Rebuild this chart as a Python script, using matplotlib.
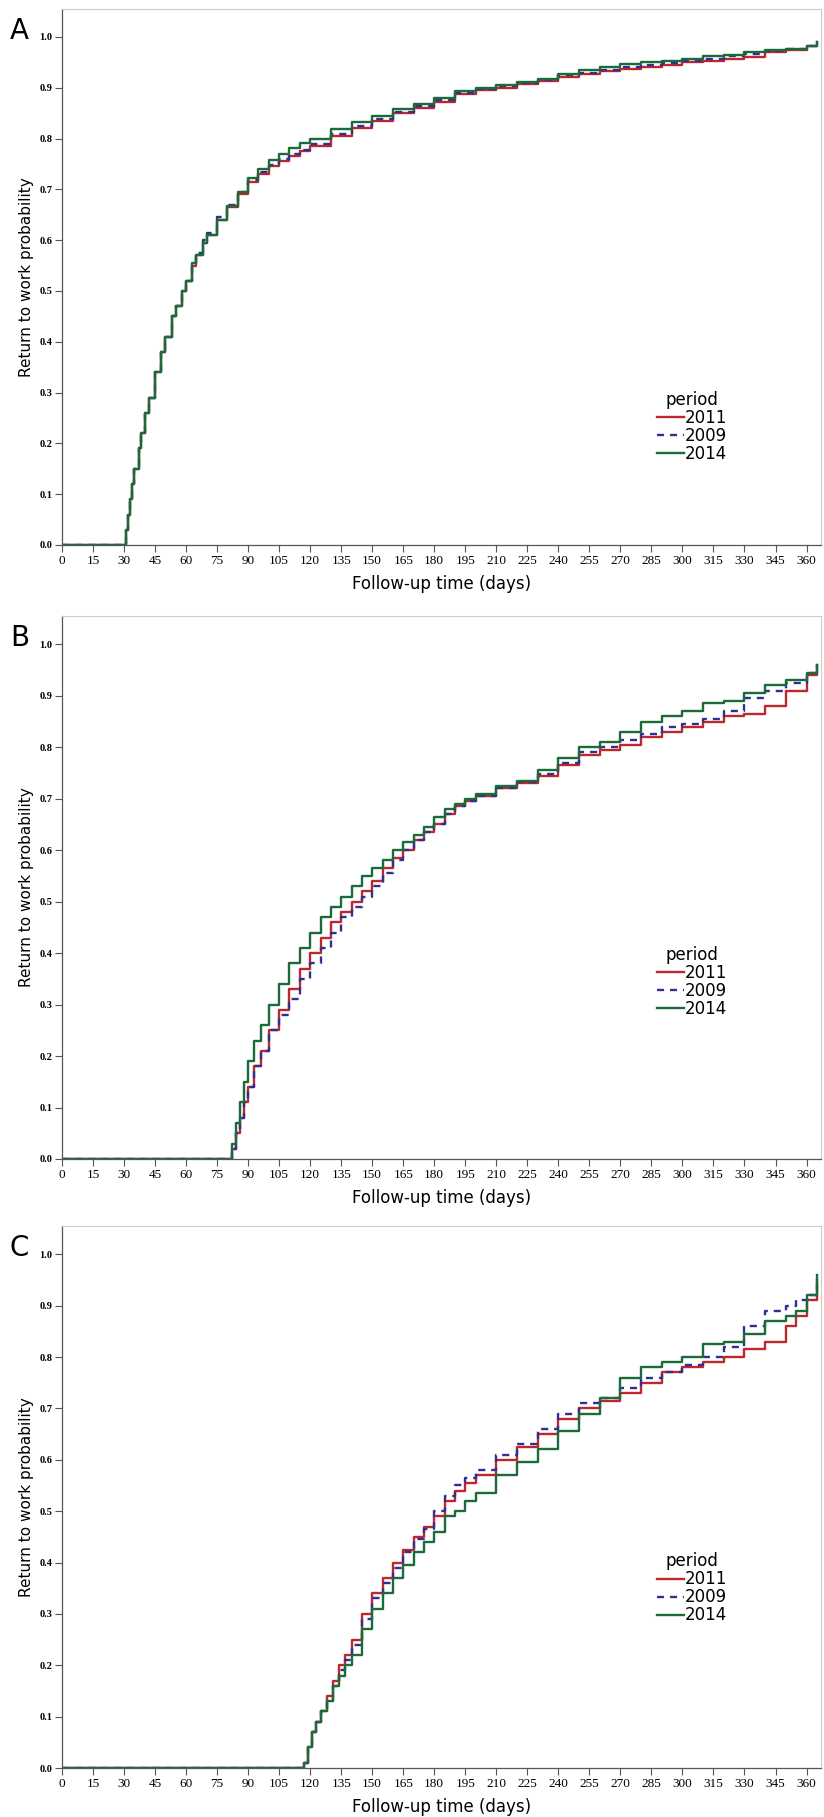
import matplotlib
matplotlib.use("Agg")
import matplotlib.pyplot as plt
from matplotlib.lines import Line2D

# ---------------- data ----------------
# Panel A
a_days = [0, 31, 32, 33, 34, 35, 37, 38, 40, 42, 45, 48, 50, 53, 55, 58, 60, 63, 65, 68, 70, 75, 80, 85, 90, 95, 100, 105, 110,
          115, 120, 130, 140, 150, 160, 170, 180, 190, 200, 210, 220, 230, 240, 250, 260, 270, 280, 290, 300, 310, 320, 330,
          340, 350, 360, 365]
a_2011 = [0, 0.03, 0.06, 0.09, 0.12, 0.15, 0.19, 0.22, 0.26, 0.29, 0.34, 0.38, 0.41, 0.45, 0.47, 0.50, 0.52, 0.55, 0.57, 0.595,
          0.61, 0.64, 0.665, 0.69, 0.715, 0.73, 0.745, 0.755, 0.765, 0.775, 0.785, 0.805, 0.82, 0.835, 0.85, 0.86, 0.872,
          0.888, 0.895, 0.90, 0.907, 0.913, 0.922, 0.928, 0.932, 0.936, 0.94, 0.945, 0.95, 0.953, 0.956, 0.96, 0.97, 0.975,
          0.982, 0.99]
a_2009 = [0, 0.03, 0.06, 0.09, 0.12, 0.15, 0.19, 0.22, 0.26, 0.29, 0.34, 0.38, 0.41, 0.45, 0.47, 0.50, 0.52, 0.55, 0.575, 0.60,
          0.615, 0.645, 0.67, 0.695, 0.718, 0.735, 0.748, 0.76, 0.77, 0.778, 0.79, 0.808, 0.824, 0.838, 0.852, 0.864, 0.876,
          0.89, 0.897, 0.903, 0.91, 0.916, 0.925, 0.93, 0.935, 0.94, 0.944, 0.948, 0.952, 0.957, 0.962, 0.966, 0.972, 0.977,
          0.983, 0.99]
a_2014 = [0, 0.03, 0.06, 0.09, 0.12, 0.15, 0.19, 0.22, 0.26, 0.29, 0.34, 0.38, 0.41, 0.45, 0.47, 0.50, 0.52, 0.555, 0.57, 0.595,
          0.61, 0.64, 0.667, 0.695, 0.722, 0.74, 0.757, 0.77, 0.782, 0.792, 0.80, 0.818, 0.832, 0.845, 0.858, 0.868, 0.88,
          0.893, 0.9, 0.906, 0.912, 0.918, 0.927, 0.934, 0.94, 0.946, 0.95, 0.953, 0.957, 0.962, 0.965, 0.97, 0.974, 0.977,
          0.983, 0.99]

# Panel B
b_days = [0, 82, 84, 86, 88, 90, 93, 96, 100, 105, 110, 115, 120, 125, 130, 135, 140, 145, 150, 155, 160, 165, 170, 175, 180,
          185, 190, 195, 200, 210, 220, 230, 240, 250, 260, 270, 280, 290, 300, 310, 320, 330, 340, 350, 360, 365]
b_2011 = [0, 0.02, 0.05, 0.08, 0.11, 0.14, 0.18, 0.21, 0.25, 0.29, 0.33, 0.37, 0.40, 0.43, 0.46, 0.48, 0.50, 0.52, 0.54, 0.565,
          0.585, 0.60, 0.62, 0.635, 0.65, 0.67, 0.685, 0.695, 0.705, 0.72, 0.73, 0.745, 0.765, 0.785, 0.795, 0.805, 0.82,
          0.83, 0.84, 0.85, 0.86, 0.865, 0.88, 0.91, 0.94, 0.96]
b_2009 = [0, 0.02, 0.05, 0.08, 0.11, 0.14, 0.18, 0.21, 0.25, 0.28, 0.31, 0.35, 0.38, 0.41, 0.44, 0.47, 0.49, 0.51, 0.53, 0.555,
          0.58, 0.60, 0.62, 0.635, 0.65, 0.67, 0.685, 0.695, 0.705, 0.72, 0.733, 0.748, 0.77, 0.79, 0.80, 0.815, 0.825,
          0.84, 0.845, 0.855, 0.87, 0.895, 0.91, 0.925, 0.945, 0.96]
b_2014 = [0, 0.03, 0.07, 0.11, 0.15, 0.19, 0.23, 0.26, 0.30, 0.34, 0.38, 0.41, 0.44, 0.47, 0.49, 0.51, 0.53, 0.55, 0.565, 0.58,
          0.60, 0.615, 0.63, 0.645, 0.665, 0.68, 0.69, 0.70, 0.71, 0.725, 0.735, 0.755, 0.78, 0.80, 0.81, 0.83, 0.85,
          0.86, 0.87, 0.885, 0.89, 0.905, 0.92, 0.93, 0.945, 0.96]

# Panel C
c_days = [0, 117, 119, 121, 123, 125, 128, 131, 134, 137, 140, 145, 150, 155, 160, 165, 170, 175, 180, 185, 190, 195, 200, 210,
          220, 230, 240, 250, 260, 270, 280, 290, 300, 310, 320, 330, 340, 350, 355, 360, 365]
c_2011 = [0, 0.01, 0.04, 0.07, 0.09, 0.11, 0.14, 0.17, 0.20, 0.22, 0.25, 0.30, 0.34, 0.37, 0.40, 0.425, 0.45, 0.47, 0.49, 0.52,
          0.54, 0.555, 0.57, 0.60, 0.625, 0.65, 0.68, 0.70, 0.715, 0.73, 0.75, 0.77, 0.78, 0.79, 0.80, 0.815, 0.83, 0.86,
          0.88, 0.91, 0.95]
c_2009 = [0, 0.01, 0.04, 0.07, 0.09, 0.11, 0.13, 0.16, 0.19, 0.21, 0.24, 0.29, 0.33, 0.36, 0.39, 0.42, 0.445, 0.465, 0.50, 0.53,
          0.55, 0.565, 0.58, 0.61, 0.63, 0.66, 0.69, 0.71, 0.72, 0.74, 0.76, 0.77, 0.785, 0.80, 0.82, 0.86, 0.89, 0.90,
          0.91, 0.92, 0.94]
c_2014 = [0, 0.01, 0.04, 0.07, 0.09, 0.11, 0.13, 0.16, 0.18, 0.20, 0.22, 0.27, 0.31, 0.34, 0.37, 0.395, 0.42, 0.44, 0.46, 0.49,
          0.50, 0.52, 0.535, 0.57, 0.595, 0.62, 0.655, 0.69, 0.72, 0.76, 0.78, 0.79, 0.80, 0.825, 0.83, 0.845, 0.87, 0.88,
          0.89, 0.92, 0.96]

panels = [("A", a_days, a_2011, a_2009, a_2014),
          ("B", b_days, b_2011, b_2009, b_2014),
          ("C", c_days, c_2011, c_2009, c_2014)]
series_names = ["2011", "2009", "2014"]
colors = ["#c0272d", "#2e3192", "#1b6b3a"]
styles = ["-", (0, (3, 2.5)), "-"]
xticks = list(range(0, 361, 15))
yticks = [i / 10 for i in range(11)]

# ---------------- figure ----------------
W, H = 824, 1817
fig = plt.figure(figsize=(W / 100, H / 100), dpi=100)
boxes = [(9, 545), (616, 1159), (1226, 1768)]
left, right = 62 / W, 821 / W
leg_y = [0.25, 0.355, 0.36]

for (lab, days, s11, s09, s14), (top, bot), ly in zip(panels, boxes, leg_y):
    ax = fig.add_axes([left, 1 - bot / H, right - left, (bot - top) / H])
    for vals, c, ls, name in zip([s11, s09, s14], colors, styles, series_names):
        ax.step(days, vals, where="post", color=c, ls=ls, lw=1.7, label=name)
    ax.set_xlim(0, 367)
    ax.set_ylim(0, 1.055)
    ax.set_xticks(xticks)
    ax.set_yticks(yticks)
    ax.set_xticklabels([str(t) for t in xticks], family="Liberation Serif", fontsize=9.5)
    ax.set_yticklabels([f"{t:.1f}" for t in yticks], family="Liberation Serif", fontsize=7.5, fontweight="bold")
    for s in ["top", "right"]:
        ax.spines[s].set_color("#cccccc")
        ax.spines[s].set_linewidth(0.8)
    for s in ["left", "bottom"]:
        ax.spines[s].set_color("#555555")
        ax.spines[s].set_linewidth(0.9)
    ax.tick_params(direction="out", length=5, width=0.8, color="#555555", pad=2)
    ax.set_xlabel("Follow-up time (days)", fontsize=12, family="DejaVu Sans", labelpad=6)
    ax.set_ylabel("Return to work probability", fontsize=11, family="DejaVu Sans", labelpad=4)
    fig.text(0.012, 1 - (top + 22) / H, lab, fontsize=20, family="DejaVu Sans", va="center")
    handles = [Line2D([0], [0], color=c, ls=ls, lw=1.7) for c, ls in zip(colors, styles)]
    leg = ax.legend(handles, series_names, title="period", loc="upper left",
                    bbox_to_anchor=(0.775, ly + 0.05), frameon=False, fontsize=12,
                    title_fontsize=12, handlelength=1.6, handletextpad=0.1,
                    labelspacing=0.0, borderaxespad=0)
    for t in leg.get_texts():
        t.set_family("DejaVu Sans")

fig.savefig("out.png", dpi=100)
